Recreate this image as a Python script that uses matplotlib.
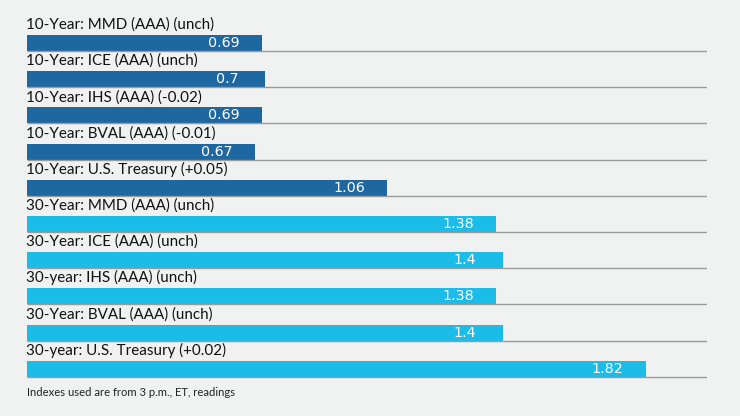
import matplotlib
matplotlib.use("Agg")
import matplotlib.pyplot as plt

labels = [
    "10-Year: MMD (AAA) (unch)",
    "10-Year: ICE (AAA) (unch)",
    "10-Year: IHS (AAA) (-0.02)",
    "10-Year: BVAL (AAA) (-0.01)",
    "10-Year: U.S. Treasury (+0.05)",
    "30-Year: MMD (AAA) (unch)",
    "30-Year: ICE (AAA) (unch)",
    "30-year: IHS (AAA) (unch)",
    "30-Year: BVAL (AAA) (unch)",
    "30-year: U.S. Treasury (+0.02)",
]
values = [0.69, 0.7, 0.69, 0.67, 1.06, 1.38, 1.4, 1.38, 1.4, 1.82]
value_text = ["0.69", "0.7", "0.69", "0.67", "1.06", "1.38", "1.4", "1.38", "1.4", "1.82"]
footer = "Indexes used are from 3 p.m., ET, readings"

dark = "#1f67a0"
light = "#1cbce9"
bg = "#f0f1f1"
colors = [dark] * 5 + [light] * 5

W, H = 740, 416
fig = plt.figure(figsize=(W / 100, H / 100), dpi=100, facecolor=bg)

pitch = 36.2
top_px = 51 - pitch
bot_px = 51 + 9.2 * pitch
ax = fig.add_axes([27 / W, (H - bot_px) / H, 680 / W, (bot_px - top_px) / H])
ax.set_facecolor(bg)
ax.set_xlim(0, 2)
ax.set_ylim(9.2, -1.0)
ax.axis("off")

bh = 16 / pitch
for i, (lab, v, vt, c) in enumerate(zip(labels, values, value_text, colors)):
    ax.barh(i - bh / 2, v, height=bh, left=0, color=c, edgecolor="none")
    ax.hlines(i, 0, 2, color="#9a9a9a", lw=1.0)
    ax.text(-0.002, i - 0.61, lab, ha="left", va="baseline", fontsize=10.9,
            family="Lato", color="#111111")
    ax.text(v - 38 / 340, i - bh / 2, vt, ha="center", va="center",
            fontsize=10.3, family="DejaVu Sans", color="white")

fig.text(27 / W, 1 - 392 / H, footer, ha="left", va="center", fontsize=8.1,
         family="Lato", color="#222222")

fig.savefig("out.png", dpi=100, facecolor=bg)
